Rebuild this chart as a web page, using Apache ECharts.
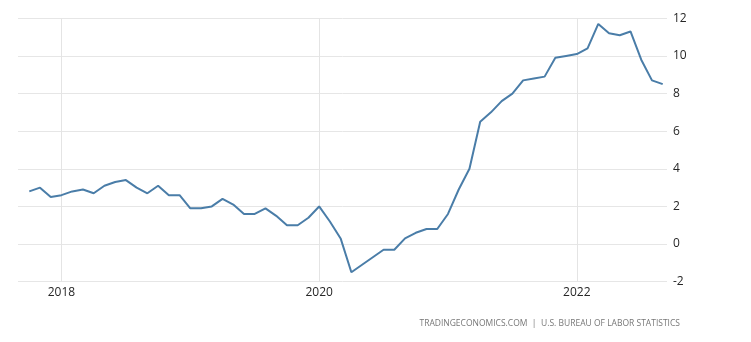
<!DOCTYPE html>
<html>
<head>
<meta charset="utf-8">
<script src="https://cdn.jsdelivr.net/npm/echarts@6/dist/echarts.min.js"></script>
<style>
  html, body { margin: 0; padding: 0; background: #fff; }
  #chart { width: 751px; height: 342px; }
</style>
</head>
<body>
<div id="chart"></div>
<script>
// Monthly periods, Oct 2017 .. Sep 2022
const months = [
  '2017-10','2017-11','2017-12',
  '2018-01','2018-02','2018-03','2018-04','2018-05','2018-06','2018-07','2018-08','2018-09','2018-10','2018-11','2018-12',
  '2019-01','2019-02','2019-03','2019-04','2019-05','2019-06','2019-07','2019-08','2019-09','2019-10','2019-11','2019-12',
  '2020-01','2020-02','2020-03','2020-04','2020-05','2020-06','2020-07','2020-08','2020-09','2020-10','2020-11','2020-12',
  '2021-01','2021-02','2021-03','2021-04','2021-05','2021-06','2021-07','2021-08','2021-09','2021-10','2021-11','2021-12',
  '2022-01','2022-02','2022-03','2022-04','2022-05','2022-06','2022-07','2022-08','2022-09'
];

// Year-over-year change, percent
const values = [
  2.8, 3.0, 2.5,
  2.6, 2.8, 2.9, 2.7, 3.1, 3.3, 3.4, 3.0, 2.7, 3.1, 2.6, 2.6,
  1.9, 1.9, 2.0, 2.4, 2.1, 1.6, 1.6, 1.9, 1.5, 1.0, 1.0, 1.4,
  2.0, 1.2, 0.3, -1.5, -1.1, -0.7, -0.3, -0.3, 0.3, 0.6, 0.8, 0.8,
  1.6, 2.9, 4.0, 6.5, 7.0, 7.6, 8.0, 8.7, 8.8, 8.9, 9.9, 10.0,
  10.1, 10.4, 11.7, 11.2, 11.1, 11.3, 9.8, 8.7, 8.5
];

// Years marked on the horizontal axis
const yearLabels = ['2018', '2020', '2022'];

// Y-axis ticks
const yTicks = [-2, 0, 2, 4, 6, 8, 10, 12];

const sourceText = 'TRADINGECONOMICS.COM  |  U.S. BUREAU OF LABOR STATISTICS';

// Month offset counted from January 2018
function monthIndex(ym) {
  const [y, m] = ym.split('-').map(Number);
  return (y - 2018) * 12 + (m - 1);
}

const points = months.map((m, i) => [monthIndex(m), values[i]]);
const yearTickValues = yearLabels.map(y => monthIndex(y + '-01'));

const chart = echarts.init(document.getElementById('chart'), null, { renderer: 'canvas' });

chart.setOption({
  backgroundColor: '#ffffff',
  animation: false,
  textStyle: { fontFamily: '"Open Sans", "Noto Sans", sans-serif' },
  grid: { left: 18, right: 84, top: 18.3, bottom: 60.3, containLabel: false },
  xAxis: {
    type: 'value',
    min: points[0][0] - 1.05,
    max: points[points.length - 1][0] + 0.4,
    axisLine: { show: false },
    axisTick: { show: false, customValues: yearTickValues },
    axisLabel: {
      customValues: yearTickValues,
      formatter: v => String(2018 + Math.round(v / 12)),
      color: '#262626',
      fontSize: 12,
      margin: 5
    },
    splitLine: { show: true, lineStyle: { color: '#e4e4e4', width: 1 } }
  },
  yAxis: {
    type: 'value',
    position: 'right',
    min: yTicks[0],
    max: yTicks[yTicks.length - 1],
    interval: 2,
    axisLine: { show: false },
    axisTick: { show: false },
    axisLabel: { color: '#262626', fontSize: 12, margin: 6, align: 'left' },
    splitLine: { show: true, lineStyle: { color: '#e6e6e6', width: 1 } }
  },
  series: [{
    type: 'line',
    data: points,
    showSymbol: false,
    symbol: 'none',
    lineStyle: { color: '#4a7da8', width: 2 },
    itemStyle: { color: '#4a7da8' }
  }],
  graphic: [{
    type: 'text',
    right: 71,
    top: 319,
    style: {
      text: sourceText,
      fill: '#777',
      fontSize: 8.5,
      fontFamily: '"Open Sans", "Noto Sans", sans-serif'
    }
  }]
});
</script>
</body>
</html>
